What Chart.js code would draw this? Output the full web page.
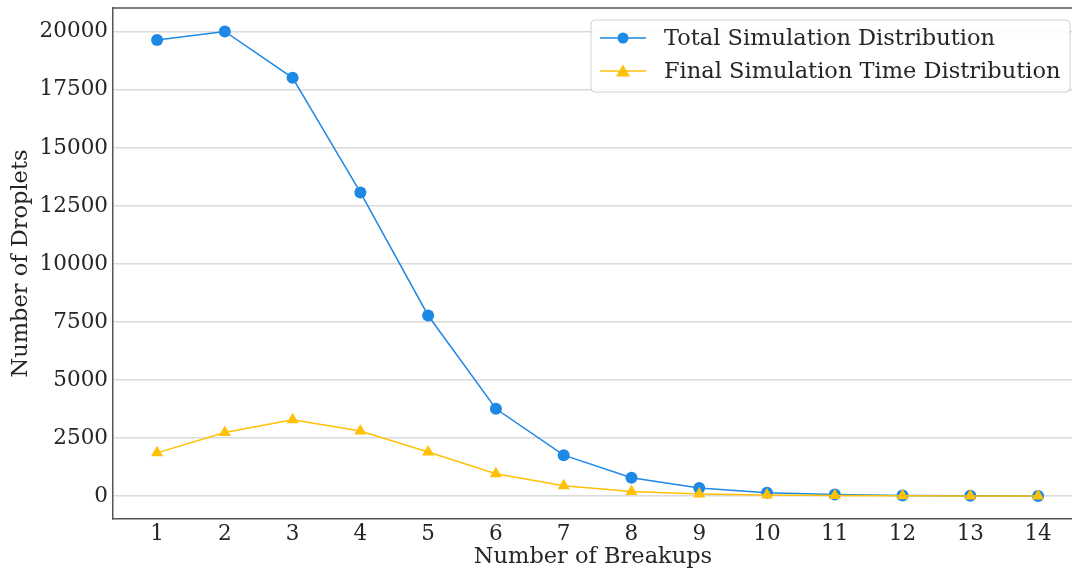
<!DOCTYPE html>
<html>
<head>
<meta charset="utf-8">
<script src="https://cdn.jsdelivr.net/npm/chart.js@4.4.1/dist/chart.umd.min.js"></script>
<style>
  html, body { margin: 0; padding: 0; background: #fff; overflow: hidden; }
  #wrap { width: 1072px; height: 571px; overflow: hidden; }
</style>
</head>
<body>
<div id="wrap"><canvas id="grafico" width="1080" height="571"></canvas></div>
<script>
// breakup counts and droplet totals
const breakups = [1, 2, 3, 4, 5, 6, 7, 8, 9, 10, 11, 12, 13, 14];
const totalDist = [19650, 20020, 18020, 13080, 7780, 3760, 1760, 790, 350, 140, 70, 25, 12, 5];
const finalDist = [1860, 2740, 3290, 2800, 1900, 960, 440, 190, 90, 45, 20, 10, 5, 2];
const yTicks = [0, 2500, 5000, 7500, 10000, 12500, 15000, 17500, 20000];

const serif = "'DejaVu Serif', serif";
const fontSize = 22.5;
const tickSize = 21.5;
const textColor = '#262626';
const blue = '#1e88e5';
const yellow = '#ffc107';

// top spine + boxed legend in the upper right
const extras = {
    id: 'extras',
    afterDraw: function (chart) {
        const c = chart.ctx;
        const a = chart.chartArea;
        c.save();
        c.strokeStyle = '#555';
        c.lineWidth = 1.5;
        c.beginPath();
        c.moveTo(a.left, a.top);
        c.lineTo(a.right, a.top);
        c.stroke();

        // legend box
        const bx = 591, by = 20, bw = 479, bh = 72, r = 4;
        c.beginPath();
        c.roundRect(bx, by, bw, bh, r);
        c.fillStyle = 'rgba(255,255,255,0.85)';
        c.fill();
        c.strokeStyle = '#d0d0d0';
        c.lineWidth = 1;
        c.stroke();

        c.font = fontSize + 'px ' + serif;
        c.textBaseline = 'middle';
        chart.data.datasets.forEach(function (ds, i) {
            const y = 38 + i * 33;
            c.strokeStyle = ds.borderColor;
            c.lineWidth = 1.5;
            c.beginPath();
            c.moveTo(600, y);
            c.lineTo(646, y);
            c.stroke();
            c.fillStyle = ds.borderColor;
            c.beginPath();
            if (ds.pointStyle === 'circle') {
                c.arc(623, y, 5.5, 0, Math.PI * 2);
            } else {
                c.moveTo(623, y - 6.5);
                c.lineTo(630, y + 5.5);
                c.lineTo(616, y + 5.5);
                c.closePath();
            }
            c.fill();
            c.fillStyle = textColor;
            c.textAlign = 'left';
            c.fillText(ds.label, 664, y + 1);
        });
        c.restore();
    }
};

new Chart(document.getElementById('grafico'), {
    type: 'line',
    data: {
        datasets: [{
            label: 'Total Simulation Distribution',
            data: breakups.map(function (b, i) { return { x: b, y: totalDist[i] }; }),
            borderColor: blue,
            backgroundColor: blue,
            borderWidth: 1.5,
            pointStyle: 'circle',
            pointRadius: 6,
            pointBorderWidth: 0,
            tension: 0,
            order: 2
        }, {
            label: 'Final Simulation Time Distribution',
            data: breakups.map(function (b, i) { return { x: b, y: finalDist[i] }; }),
            borderColor: yellow,
            backgroundColor: yellow,
            borderWidth: 1.5,
            pointStyle: 'triangle',
            pointRadius: 7,
            pointBorderWidth: 0,
            tension: 0,
            order: 1
        }]
    },
    options: {
        responsive: false,
        animation: false,
        devicePixelRatio: 1,
        layout: { padding: { top: 8, right: 0, left: 0, bottom: 0 } },
        plugins: {
            legend: { display: false },
            tooltip: { enabled: false }
        },
        scales: {
            x: {
                type: 'linear',
                min: 0.35,
                max: 14.515,
                afterBuildTicks: function (s) {
                    s.ticks = breakups.map(function (v) { return { value: v }; });
                },
                afterFit: function (s) {
                    s.height = 52;
                    s.paddingLeft = 0;
                    s.paddingRight = 0;
                },
                grid: { display: false, drawTicks: false },
                border: { display: true, color: '#555', width: 1.5 },
                ticks: {
                    padding: 3,
                    color: textColor,
                    font: { family: serif, size: tickSize },
                    maxRotation: 0,
                    autoSkip: false,
                    callback: function (v) { return String(v); }
                },
                title: {
                    display: true,
                    text: 'Number of Breakups',
                    color: textColor,
                    font: { family: serif, size: fontSize },
                    padding: { top: 0, bottom: 0 }
                }
            },
            y: {
                min: -990,
                max: 21030,
                afterBuildTicks: function (s) {
                    s.ticks = yTicks.map(function (v) { return { value: v }; });
                },
                afterFit: function (s) {
                    s.width = 113;
                    s.paddingTop = 0;
                    s.paddingBottom = 0;
                },
                grid: { color: '#dadada', lineWidth: 1.5, drawTicks: false },
                border: { display: true, color: '#555', width: 1.5 },
                ticks: {
                    padding: 5,
                    color: textColor,
                    font: { family: serif, size: tickSize },
                    callback: function (v) { return String(v); }
                },
                title: {
                    display: true,
                    text: 'Number of Droplets',
                    color: textColor,
                    font: { family: serif, size: fontSize },
                    padding: { top: 8, bottom: 0 }
                }
            }
        }
    },
    plugins: [extras]
});
</script>
</body>
</html>
